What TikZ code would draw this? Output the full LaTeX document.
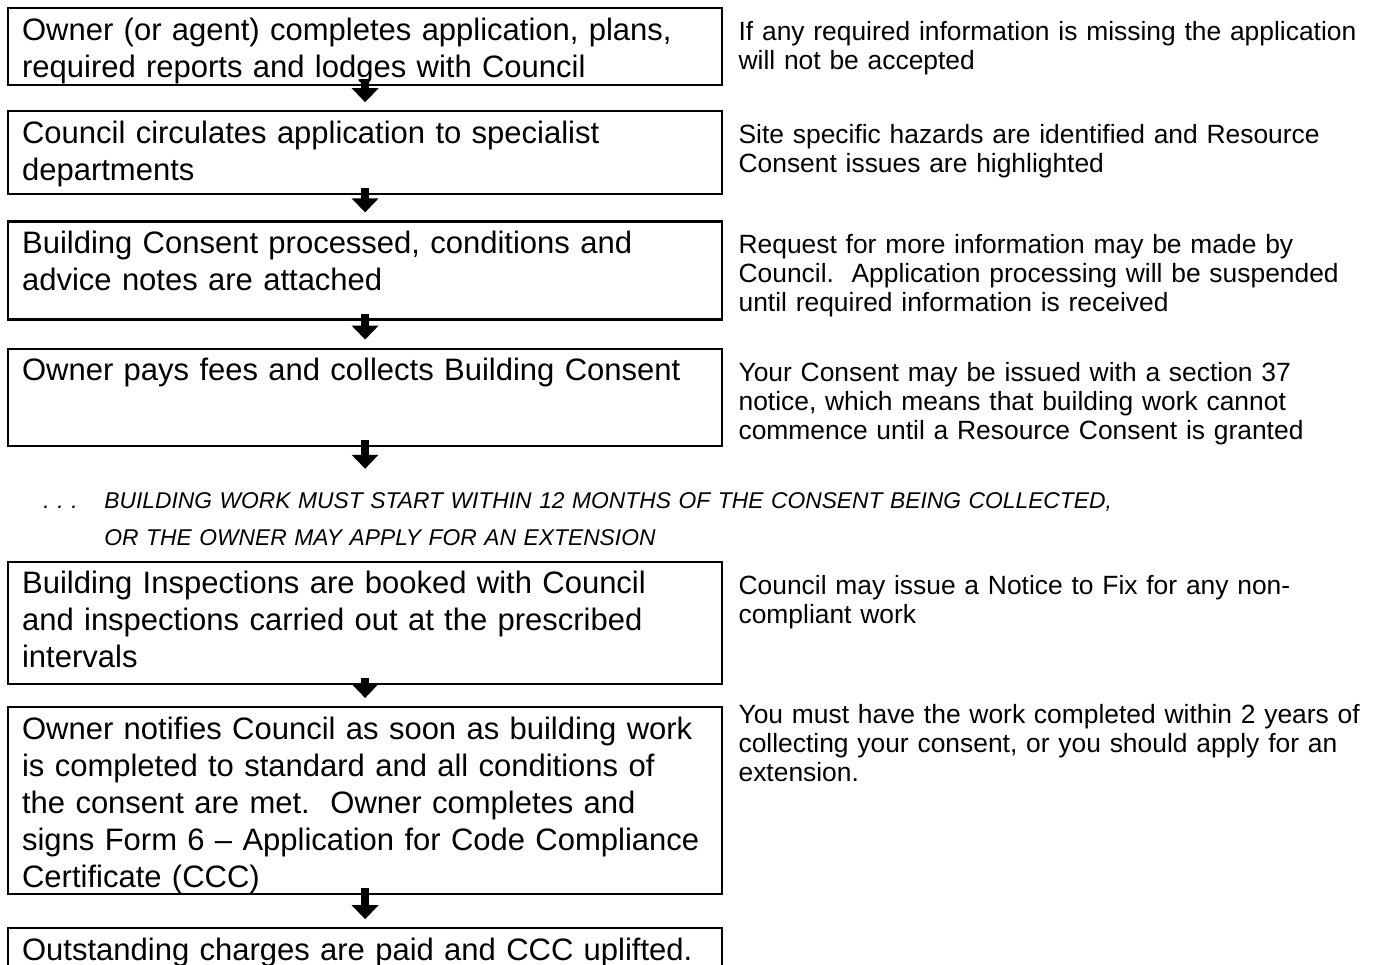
\documentclass[tikz,border=0pt]{standalone}
\usepackage{fontspec}
\setmainfont{Liberation Sans}
\usepackage{tikz}
\usetikzlibrary{arrows.meta,positioning}
\tikzstyle{stepbox} = [draw, line width=1.1pt, anchor=north west, text width=343pt, minimum width=357pt, inner xsep=7pt, inner ysep=4.5pt, text height=11.5pt, align=left, font=\fontsize{15.5}{18.5}\selectfont]
\tikzstyle{sidenote} = [anchor=north west, text width=318pt, inner sep=0pt, text height=10pt, align=left, font=\fontsize{13.2}{14.5}\selectfont]
\tikzstyle{warnnote} = [anchor=north west, text width=600pt, inner sep=0pt, text height=10pt, align=left, font=\fontsize{11.4}{18.5}\selectfont\itshape]
\tikzstyle{arrow} = [draw, line width=4pt, -{Triangle[length=7pt,width=13pt]}]
\newcommand{\stepbox}[3]{node (s#1) [stepbox, text depth=#2] {#3}}
\newcommand{\sidenote}[2]{node (n#1) [sidenote] {#2}}

\begin{document}
\begin{tikzpicture}[x=0.5pt,y=0.5pt]
\useasboundingbox (0,0) rectangle (1378,-965);
\path (7,-7) \stepbox{1}{18pt}{Owner (or agent) completes application, plans,\\required reports and lodges with Council};
\path (s1.south west)+(0,-24) \stepbox{2}{21pt}{Council circulates application to specialist\\departments};
\path (s2.south west)+(0,-25) \stepbox{3}{28.5pt}{Building Consent processed, conditions and\\advice notes are attached};
\path (s3.south west)+(0,-27) \stepbox{4}{28pt}{Owner pays fees and collects Building Consent};
\path (s4.south west)+(36,-41) node (w1) [warnnote] {\makebox[30.5pt][l]{.~.~.}BUILDING WORK MUST START WITHIN 12 MONTHS OF THE CONSENT BEING COLLECTED,\\\makebox[30.5pt]{}OR THE OWNER MAY APPLY FOR AN EXTENSION};
\path (s4.south west)+(0,-114) \stepbox{5}{40.5pt}{Building Inspections are booked with Council\\and inspections carried out at the prescribed\\intervals};
\path (s5.south west)+(0,-21) \stepbox{6}{73pt}{Owner notifies Council as soon as building work\\is completed to standard and all conditions of\\the consent are met.\ \ Owner completes and\\signs Form 6 -- Application for Code Compliance\\Certificate (CCC)};
\path (s6.south west)+(0,-32) \stepbox{7}{30pt}{Outstanding charges are paid and CCC uplifted.};

% notes beside the steps
\path (s1.north east)+(15,-13) \sidenote{1}{If any required information is missing the application\\will not be accepted};
\path (s2.north east)+(15,-13) \sidenote{2}{Site specific hazards are identified and Resource\\Consent issues are highlighted};
\path (s3.north east)+(15,-13) \sidenote{3}{Request for more information may be made by\\Council.\ \ Application processing will be suspended\\until required information is received};
\path (s4.north east)+(15,-13) \sidenote{4}{Your Consent may be issued with a section 37\\notice, which means that building work cannot\\commence until a Resource Consent is granted};
\path (s5.north east)+(15,-13) \sidenote{5}{Council may issue a Notice to Fix for any non-\\compliant work};
\path (s6.north east)+(15,3) \sidenote{6}{You must have the work completed within 2 years of\\collecting your consent, or you should apply for an\\extension.};

\path (s4.south)+(0,-22) coordinate (g4);
\path [arrow] ([yshift=3.5pt]s1.south) -- ([yshift=4pt]s2.north);
\path [arrow] ([yshift=3.5pt]s2.south) -- ([yshift=4pt]s3.north);
\path [arrow] ([yshift=3.5pt]s3.south) -- ([yshift=4pt]s4.north);
\path [arrow] ([yshift=3.5pt]s4.south) -- (g4);
\path [arrow] ([yshift=3.5pt]s5.south) -- ([yshift=4pt]s6.north);
\path [arrow] ([yshift=3.5pt]s6.south) -- ([yshift=4pt]s7.north);
\end{tikzpicture}
\end{document}
